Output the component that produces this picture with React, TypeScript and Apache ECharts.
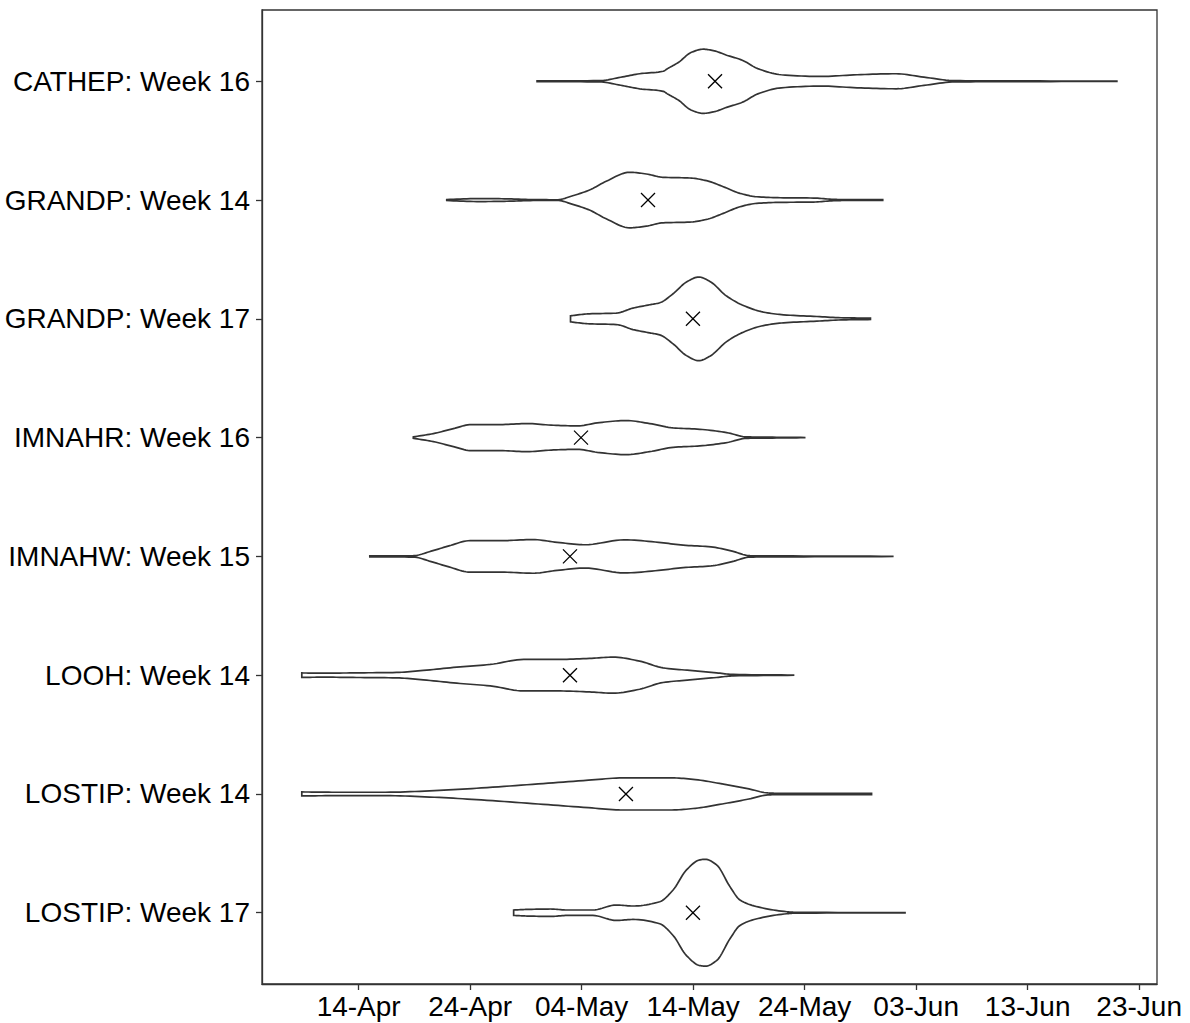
import React, { useEffect, useRef } from "react";
import * as echarts from "echarts";

// Violin groups, top to bottom
const categories = [
  "CATHEP: Week 16",
  "GRANDP: Week 14",
  "GRANDP: Week 17",
  "IMNAHR: Week 16",
  "IMNAHW: Week 15",
  "LOOH: Week 14",
  "LOSTIP: Week 14",
  "LOSTIP: Week 17",
];

// x axis: day of year, ticks every 10 days
const xTickDays = [104, 114, 124, 134, 144, 154, 164, 174];
const xTickLabels = ["14-Apr", "24-Apr", "04-May", "14-May", "24-May", "03-Jun", "13-Jun", "23-Jun"];
const xMinDay = 95.33;
const xMaxDay = 175.6;

// mean passage date (day of year) per group
const meanDays = [135.96, 129.95, 133.98, 123.94, 122.95, 122.95, 127.97, 133.98];

// density profiles: [day of year, density (relative)]
const cathepWeek16 = [
  [120.0, 0.4], [125.6, 0.6], [127.5, 4], [129.2, 7.5], [131.3, 10], [131.7, 12.6], [132.7, 19],
  [133.8, 28.6], [134.9, 32], [135.9, 30.3], [137.0, 26], [138.4, 21], [139.8, 12.6], [141.9, 6.5],
  [145.5, 4.8], [148.7, 6.5], [152.2, 7.5], [154.7, 4.1], [157.5, 0.6], [162.1, 0.4], [172.0, 0.1],
];
const grandpWeek14 = [
  [111.9, 0.5], [114.9, 1.5], [117.3, 1.2], [119.4, 0.5], [121.8, 0.3], [123.2, 4.3], [124.7, 10],
  [126.2, 18.7], [128.3, 27.7], [129.8, 26], [131.3, 22.7], [133.7, 22], [135.2, 19.3], [136.7, 13.3],
  [138.2, 6.7], [139.7, 3.3], [141.8, 2.3], [144.8, 2], [146.6, 0.7], [147.8, 0.4], [151.0, 0.4],
];
const grandpWeek17 = [
  [123.0, 3], [123.2, 3.3], [124.7, 5], [127.1, 5.7], [128.6, 10.7], [130.1, 14], [131.0, 16],
  [132.2, 25], [133.4, 36.7], [134.5, 41.7], [135.5, 37.3], [137.0, 22.7], [138.5, 13.3],
  [140.3, 6.7], [142.1, 4], [145.1, 2.3], [147.5, 1], [149.9, 0.7],
];
const imnahrWeek16 = [
  [108.9, 0.7], [110.7, 4], [112.5, 9], [114.1, 13], [116.7, 13], [119.1, 14], [121.5, 12.3],
  [123.6, 11.7], [125.6, 15], [128.0, 17], [130.1, 14], [132.2, 9.7], [134.6, 8.3], [137.0, 5],
  [138.8, 0.7], [140.4, 0.5], [144.0, 0.1],
];
const imnahwWeek15 = [
  [105.0, 0.5], [108.9, 0.7], [110.5, 5.2], [112.1, 10.5], [114.0, 15.7], [116.8, 15.7], [119.6, 16.8],
  [121.8, 14], [124.3, 11.6], [127.8, 16.5], [130.9, 14], [133.1, 11.2], [135.6, 9.5], [137.5, 5.2],
  [139.1, 0.7], [141.9, 0.5], [151.9, 0.1],
];
const loohWeek14 = [
  [98.9, 2.2], [100.8, 2], [103.8, 2.3], [107.4, 2.7], [109.8, 4.7], [112.8, 8], [115.8, 10.7],
  [118.8, 15.7], [121.8, 15.7], [124.7, 16.7], [126.8, 18], [129.2, 14], [131.3, 7.3], [133.7, 4.7],
  [136.1, 2.3], [137.6, 0.7], [143.0, 0.1],
];
const lostipWeek14 = [
  [98.9, 2], [101.9, 1.7], [106.4, 1.7], [110.8, 3.3], [115.0, 6], [120.1, 10], [124.6, 13.7],
  [127.7, 16], [132.1, 16], [134.2, 14.3], [136.6, 10], [139.0, 5], [140.7, 1], [141.4, 0.7], [150.0, 0.6],
];
const lostipWeek17 = [
  [117.9, 2.7], [119.1, 3.3], [121.2, 3.7], [122.7, 2.7], [125.0, 2.7], [127.1, 7.7], [128.6, 6.7],
  [131.0, 11], [132.2, 22.7], [133.4, 42.7], [134.6, 52.7], [135.1, 53.3], [136.1, 47.7], [137.3, 26],
  [138.2, 12.7], [140.0, 5.3], [142.4, 1], [143.0, 0.5], [153.0, 0.1],
];

const violinProfiles = [
  cathepWeek16, grandpWeek14, grandpWeek17, imnahrWeek16,
  imnahwWeek15, loohWeek14, lostipWeek14, lostipWeek17,
];

const MAX_HALF_WIDTH = 0.45; // category units (ggplot width 0.9)

function pchip(pts: number[][], sub: number): number[][] {
  const n = pts.length;
  const xs = pts.map((p) => p[0]);
  const ys = pts.map((p) => p[1]);
  const h: number[] = [];
  const d: number[] = [];
  for (let k = 0; k < n - 1; k++) {
    h.push(xs[k + 1] - xs[k]);
    d.push((ys[k + 1] - ys[k]) / (xs[k + 1] - xs[k]));
  }
  const m: number[] = new Array(n).fill(0);
  m[0] = d[0];
  m[n - 1] = d[n - 2];
  for (let k = 1; k < n - 1; k++) {
    if (d[k - 1] * d[k] <= 0) m[k] = 0;
    else {
      const w1 = 2 * h[k] + h[k - 1];
      const w2 = h[k] + 2 * h[k - 1];
      m[k] = (w1 + w2) / (w1 / d[k - 1] + w2 / d[k]);
    }
  }
  const out: number[][] = [];
  for (let k = 0; k < n - 1; k++) {
    for (let s = 0; s < sub; s++) {
      const t = s / sub;
      const t2 = t * t;
      const t3 = t2 * t;
      const h00 = 2 * t3 - 3 * t2 + 1;
      const h10 = t3 - 2 * t2 + t;
      const h01 = -2 * t3 + 3 * t2;
      const h11 = t3 - t2;
      const y = h00 * ys[k] + h10 * h[k] * m[k] + h01 * ys[k + 1] + h11 * h[k] * m[k + 1];
      out.push([xs[k] + t * h[k], Math.max(y, 0.05)]);
    }
  }
  out.push([xs[n - 1], Math.max(ys[n - 1], 0.05)]);
  return out;
}

export default function App() {
  const ref = useRef<HTMLDivElement>(null);
  useEffect(() => {
    if (!ref.current) return;
    const chart = echarts.init(ref.current, null, { renderer: "svg" });
    const globalMax = Math.max(...violinProfiles.map((p) => Math.max(...p.map((q) => q[1]))));
    const axisText = { color: "#000", fontSize: 28, fontFamily: "Liberation Sans, Arial, sans-serif" };

    chart.setOption({
      animation: false,
      backgroundColor: "#fff",
      grid: {
        left: 262,
        right: 33,
        top: 10,
        bottom: 39,
        show: true,
        borderColor: "#333",
        borderWidth: 1.3,
        backgroundColor: "#fff",
        containLabel: false,
        outerBoundsMode: "none",
      },
      xAxis: {
        type: "value",
        min: xMinDay,
        max: xMaxDay,
        splitLine: { show: false },
        axisLine: { show: true, lineStyle: { color: "#333", width: 1.3 } },
        axisTick: { show: true, length: 6, customValues: xTickDays, lineStyle: { color: "#333", width: 1.3 } },
        axisLabel: {
          ...axisText,
          margin: 8,
          customValues: xTickDays,
          formatter: (v: number) => {
            const i = xTickDays.indexOf(Math.round(v));
            return i >= 0 ? xTickLabels[i] : "";
          },
        },
      },
      yAxis: {
        type: "value",
        inverse: true,
        min: 0.4,
        max: categories.length + 0.6,
        splitLine: { show: false },
        axisLine: { show: true, lineStyle: { color: "#333", width: 1.3 } },
        axisTick: {
          show: true,
          length: 6,
          customValues: categories.map((_, i) => i + 1),
          lineStyle: { color: "#333", width: 1.3 },
        },
        axisLabel: {
          ...axisText,
          margin: 12,
          customValues: categories.map((_, i) => i + 1),
          formatter: (v: number) => categories[Math.round(v) - 1] ?? "",
        },
      },
      series: [
        {
          type: "custom",
          name: "violins",
          data: categories.map((_, i) => [violinProfiles[i][0][0], i + 1]),
          renderItem: (params: any, api: any) => {
            const i = params.dataIndex;
            const yc = i + 1;
            const curve = pchip(violinProfiles[i], 10);
            const top = curve.map((p) => api.coord([p[0], yc - (p[1] / globalMax) * MAX_HALF_WIDTH]));
            const bottom = curve
              .slice()
              .reverse()
              .map((p) => api.coord([p[0], yc + (p[1] / globalMax) * MAX_HALF_WIDTH]));
            return {
              type: "polygon",
              shape: { points: top.concat(bottom) },
              style: { fill: "#fff", stroke: "#333", lineWidth: 1.7 },
            };
          },
          z: 2,
        },
        {
          type: "custom",
          name: "means",
          data: meanDays.map((d, i) => [d, i + 1]),
          renderItem: (params: any, api: any) => {
            const p = api.coord([api.value(0), api.value(1)]);
            const s = 7;
            const st = { stroke: "#000", lineWidth: 1.3 };
            return {
              type: "group",
              children: [
                { type: "line", shape: { x1: p[0] - s, y1: p[1] - s, x2: p[0] + s, y2: p[1] + s }, style: st },
                { type: "line", shape: { x1: p[0] - s, y1: p[1] + s, x2: p[0] + s, y2: p[1] - s }, style: st },
              ],
            };
          },
          z: 3,
        },
      ],
    });
    return () => chart.dispose();
  }, []);
  return (
    <div
      ref={ref}
      style={{ position: "absolute", left: 0, top: 0, width: 1190, height: 1023, background: "#fff" }}
    />
  );
}
